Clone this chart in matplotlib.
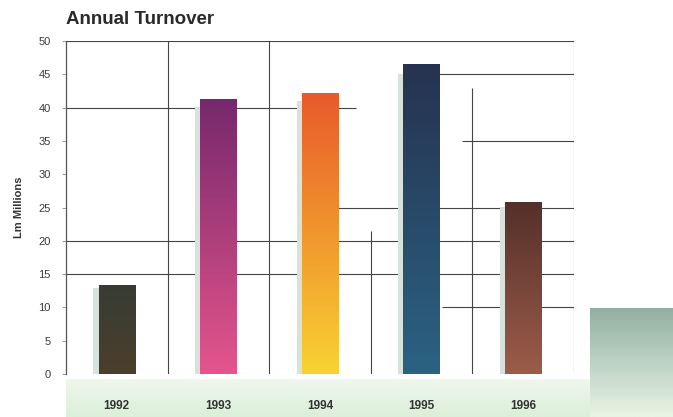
import numpy as np
import matplotlib
matplotlib.use('Agg')
import matplotlib.pyplot as plt
from matplotlib.colors import LinearSegmentedColormap

years = ['1992', '1993', '1994', '1995', '1996']
turnover = [13.3, 41.3, 42.2, 46.5, 25.8]
yticks = [0, 5, 10, 15, 20, 25, 30, 35, 40, 45, 50]

# gradient colours per bar, top -> bottom
bar_top = ['#373c34', '#76286c', '#e85a2a', '#263350', '#55302a']
bar_bot = ['#4c3f2c', '#e4558c', '#f9d232', '#2b6283', '#9c5c4a']

# the odd collage grid of the original: (y, xstart, xend) and (x, ystart, yend)
hsegs = [(50, -0.5, 4.5), (45, 2.95, 4.5), (40, -0.5, 2.35), (35, 3.4, 4.5),
         (25, 2.15, 4.5), (20, -0.5, 4.5), (15, -0.5, 4.5), (10, 3.2, 4.5)]
vsegs = [(0.5, 0, 50), (1.5, 0, 50), (2.5, 0, 21.5), (3.5, 0, 43), (4.5, 0, 50.4)]

plt.rcParams['font.family'] = ['Liberation Sans Narrow', 'Liberation Sans', 'DejaVu Sans']

fig = plt.figure(figsize=(6.73, 4.17), dpi=100)
fig.patch.set_facecolor('white')

# background decorations in pixel coordinates
bg = fig.add_axes([0, 0, 1, 1], zorder=-1)
bg.set_xlim(0, 673)
bg.set_ylim(417, 0)
bg.axis('off')
band = np.linspace(0, 1, 50).reshape(-1, 1)
bg.imshow(band, extent=(66, 590, 417, 379), aspect='auto',
          cmap=LinearSegmentedColormap.from_list('g', ['#eef8ec', '#dcefd8']))
bg.imshow(band, extent=(590, 673, 417, 308), aspect='auto',
          cmap=LinearSegmentedColormap.from_list('g2', ['#92b0a2', '#e8f4e4']))

ax = fig.add_axes([66 / 673, 1 - 374 / 417, 508 / 673, 333 / 417])
ax.patch.set_alpha(0)
x = np.arange(len(years))
width = 0.36

# faint shadow to the left of each bar
ax.bar(x - 0.05, [v * 0.97 for v in turnover], width=width, color='#d6e2da', zorder=2)
bars = ax.bar(x, turnover, width=width, color='none', zorder=3)
grad = np.linspace(0, 1, 100).reshape(-1, 1)
for b, ct, cb in zip(bars, bar_top, bar_bot):
    cm = LinearSegmentedColormap.from_list('b', [ct, cb])
    x0, y0 = b.get_x(), b.get_y()
    im = ax.imshow(grad, extent=(x0, x0 + b.get_width(), y0, y0 + b.get_height()),
                   origin='upper', aspect='auto', cmap=cm, zorder=3)
    im.set_clip_path(b)

for y, a, c in hsegs:
    ax.hlines(y, a, c, color='#444444', lw=0.8, zorder=1)
for xv, a, c in vsegs:
    ax.vlines(xv, a, c, color='#444444', lw=0.8, zorder=1)

ax.set_xlim(-0.5, 4.5)
ax.set_ylim(0, 50)
ax.set_yticks(yticks)
ax.set_yticklabels([str(t) for t in yticks], fontsize=8, color='#3a3a3a')
ax.set_xticks(x)
ax.set_xticklabels(years, fontsize=8.5, fontweight='bold', color='#333333')
ax.tick_params(axis='x', length=0, pad=19)
ax.tick_params(axis='y', length=3, width=0.6, color='#888888', pad=8)
for s in ['top', 'right', 'bottom']:
    ax.spines[s].set_visible(False)
ax.spines['left'].set_color('#555555')
ax.spines['left'].set_linewidth(0.9)
ax.set_ylabel('Lm Millions', fontsize=8, fontweight='bold', color='#333333', labelpad=10)

fig.text(66 / 673, 1 - 20 / 417, 'Annual Turnover', fontsize=13.5, fontweight='bold',
         color='#2a2a2a', va='center', ha='left', family=['Liberation Sans', 'DejaVu Sans'])

fig.savefig('out.png', dpi=100)
